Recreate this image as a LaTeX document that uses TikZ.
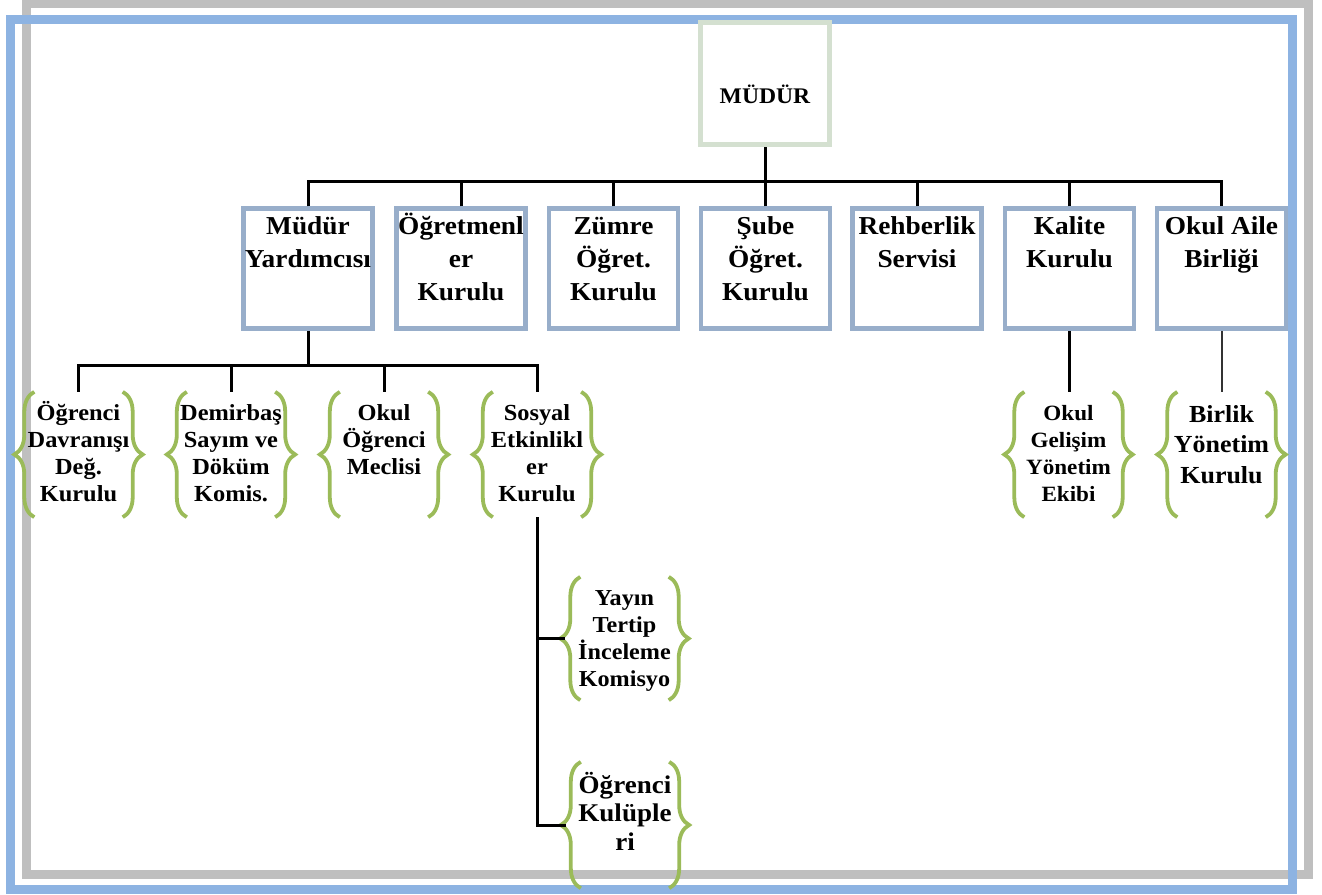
\documentclass[tikz,border=0pt]{standalone}
\usepackage{fontspec}
\setmainfont{Liberation Serif}[FakeStretch=1.06]
\usetikzlibrary{decorations.pathreplacing,calc}
\definecolor{frameblue}{HTML}{8DB3E2}
\definecolor{framegray}{HTML}{BFBFBF}
\definecolor{boxblue}{HTML}{98AECA}
\definecolor{boxgreen}{HTML}{D4E0D0}
\definecolor{bracegreen}{HTML}{9BBB59}
% #1 total height, #2 width, #3 first-line height, #4 text
\newcommand\tbox[4]{\parbox[t][#1pt][t]{#2pt}{\centering\rule{0pt}{#3pt}#4}}
\tikzset{
  topbox/.style={draw=boxgreen, line width=5pt, inner sep=0pt, font=\bfseries\fontsize{22.3}{30}\selectfont},
  orgbox/.style={draw=boxblue, line width=4.5pt, inner ysep=0pt, inner xsep=-10pt, font=\bfseries\fontsize{25.8}{33}\selectfont},
  itembox/.style={inner ysep=0pt, inner xsep=-16pt, font=\bfseries\fontsize{23}{27.3}\selectfont},
  brc/.style={draw=bracegreen, line width=3.8pt, decorate, decoration={brace, amplitude=20pt}},
  conn/.style={draw=black, line width=3pt},
  thinconn/.style={draw=black!80, line width=2pt},
  framebox/.style={line width=9pt}
}
\newcommand\braces[1]{%
  \draw[brc] (#1.south west) -- (#1.north west);
  \draw[brc] (#1.north east) -- (#1.south east);}
\begin{document}
\begin{tikzpicture}[x=1pt,y=-1pt]
\useasboundingbox (0,0) rectangle (1322,894);
% frames
\draw[framebox, framegray] (26.5,3.5) rectangle (1308,874);
\draw[framebox, frameblue] (10.5,19) rectangle (1292,889);

% top
\node[topbox] (mudur) at (765,83.5) {\tbox{122}{129}{80.5}{MÜDÜR}};

% level 2
\node[orgbox] (my)  at (308,268.5)   {\tbox{120}{149}{25.5}{Müdür\\Yardımcısı}};
\node[orgbox] (ogk) at (461,268.5)   {\tbox{120}{149}{25.5}{Öğretmenl\\er\\Kurulu}};
\node[orgbox] (zok) at (613.5,268.5) {\tbox{120}{149}{25.5}{Zümre\\Öğret.\\Kurulu}};
\node[orgbox] (sok) at (765.5,268.5) {\tbox{120}{149}{25.5}{Şube\\Öğret.\\Kurulu}};
\node[orgbox] (rs)  at (917,268.5)   {\tbox{120}{149}{25.5}{Rehberlik\\Servisi}};
\node[orgbox] (kk)  at (1069.5,268.5){\tbox{120}{149}{25.5}{Kalite\\Kurulu}};
\node[orgbox] (oab) at (1221.5,268.5){\tbox{120}{149}{25.5}{Okul Aile\\Birliği}};

% level 3
\node[itembox] (i1) at (78.5,454.5) {\tbox{125}{120}{28}{Öğrenci\\Davranışı\\Değ.\\Kurulu}};
\node[itembox] (i2) at (231,454.5)  {\tbox{125}{120}{28}{Demirbaş\\Sayım ve\\Döküm\\Komis.}};
\node[itembox] (i3) at (384,454.5)  {\tbox{125}{120}{28}{Okul\\Öğrenci\\Meclisi}};
\node[itembox] (i4) at (537,454.5)  {\tbox{125}{120}{28}{Sosyal\\Etkinlikl\\er\\Kurulu}};
\node[itembox, font=\bfseries\fontsize{21.8}{27.3}\selectfont] (okg) at (1068.5,454.5) {\tbox{125}{120}{28}{Okul\\Gelişim\\Yönetim\\Ekibi}};
\node[itembox, font=\bfseries\fontsize{24.5}{30.5}\selectfont] (byk) at (1221.5,454.5) {\tbox{125}{120}{30}{Birlik\\Yönetim\\Kurulu}};
\node[itembox, font=\bfseries\fontsize{22.8}{27.3}\selectfont] (yt) at (624.5,638.5) {\tbox{123}{120}{28}{Yayın\\Tertip\\İnceleme\\Komisyo}};
\node[itembox, font=\bfseries\fontsize{25.5}{28.5}\selectfont] (ok) at (625,825) {\tbox{126}{120}{31}{Öğrenci\\Kulüple\\ri}};

\braces{i1}\braces{i2}\braces{i3}\braces{i4}
\braces{okg}\braces{byk}\braces{yt}\braces{ok}

% connectors
\coordinate (bus1) at (765,181);
\draw[conn] (mudur.south) -- (bus1);
\draw[conn] (my.north) |- (bus1) -| (oab.north);
\draw[conn] (ogk.north) -- (ogk.north |- bus1);
\draw[conn] (zok.north) -- (zok.north |- bus1);
\draw[conn] (sok.north) -- (sok.north |- bus1);
\draw[conn] (rs.north) -- (rs.north |- bus1);
\draw[conn] (kk.north) -- (kk.north |- bus1);

\coordinate (bus2) at (308,365);
\draw[conn] (my.south) -- (bus2);
\draw[conn] (i1.north) |- (bus2) -| (i4.north);
\draw[conn] (i2.north) -- (i2.north |- bus2);
\draw[conn] (i3.north) -- (i3.north |- bus2);

\draw[conn] (kk.south) -- (kk.south |- okg.north);
\draw[thinconn] (oab.south) -- (oab.south |- byk.north);

\draw[conn] (i4.south) |- ([xshift=-15pt]yt.west);
\draw[conn] (i4.south) |- ([xshift=-15pt]ok.west);
\end{tikzpicture}
\end{document}
